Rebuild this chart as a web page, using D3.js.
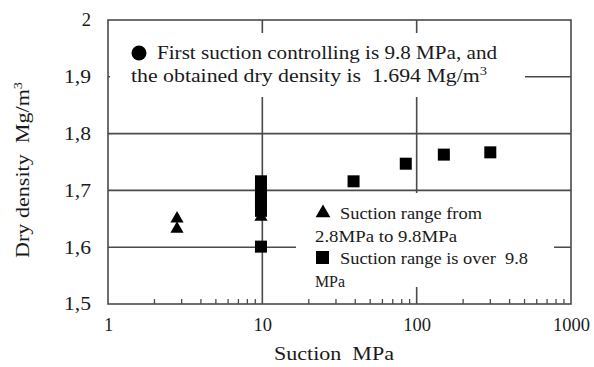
<!DOCTYPE html>
<html>
<head>
<meta charset="utf-8">
<script src="https://cdn.jsdelivr.net/npm/d3@7"></script>
<style>
  html, body { margin: 0; padding: 0; background: #fff; }
  svg { display: block; font-family: "Liberation Serif", "Times New Roman", serif; }
</style>
</head>
<body>
<svg id="chart" width="594" height="367"></svg>
<script>
// Suction (MPa) vs dry density (Mg/m3)
const triSuction = [2.8, 2.8, 9.8];
const triDensity = [1.652, 1.634, 1.655];

const sqSuction = [9.8, 9.8, 9.8, 9.8, 9.8, 9.8, 9.8, 39, 85, 150, 300];
const sqDensity = [1.716, 1.706, 1.695, 1.685, 1.674, 1.664, 1.601, 1.716, 1.747, 1.763, 1.767];

const circleSuction = [9.8];
const circleDensity = [1.694];

const xTicks = [1, 10, 100, 1000];
const yTicks = [1.5, 1.6, 1.7, 1.8, 1.9, 2];
const yTickLabels = ["1,5", "1,6", "1,7", "1,8", "1,9", "2"];

const noteLines = ["First suction controlling is 9.8 MPa, and", "the obtained dry density is  1.694 Mg/m"];
const legendLines = ["Suction range from", "2.8MPa to 9.8MPa", "Suction range is over  9.8", "MPa"];

const svg = d3.select("#chart");
const L = 108, R = 571, T = 20, B = 304;

const x = d3.scaleLog().domain([1, 1000]).range([L, R]);
const y = d3.scaleLinear().domain([1.5, 2]).range([B, T]);

const gridColor = "#4a4a4a";
const ink = "#1a1a1a";

// stretch a text element to a given width
function fit(sel, w) {
  return sel.attr("textLength", w).attr("lengthAdjust", "spacingAndGlyphs");
}

// grid lines
svg.append("g").selectAll("line").data(yTicks.filter(v => v > 1.5 && v < 2)).join("line")
  .attr("x1", L).attr("x2", R).attr("y1", d => y(d)).attr("y2", d => y(d))
  .attr("stroke", gridColor).attr("stroke-width", 1.6);
svg.append("g").selectAll("line").data([10, 100]).join("line")
  .attr("x1", d => x(d)).attr("x2", d => x(d)).attr("y1", T).attr("y2", B)
  .attr("stroke", gridColor).attr("stroke-width", 1.6);

// minor ticks on the bottom axis, pointing into the plot
const minor = [];
[1, 10, 100].forEach(dec => { for (let k = 2; k <= 9; k++) minor.push(dec * k); });
svg.append("g").selectAll("line").data(minor).join("line")
  .attr("x1", d => x(d)).attr("x2", d => x(d)).attr("y1", B).attr("y2", B - 5)
  .attr("stroke", gridColor).attr("stroke-width", 1.3);

// frame
svg.append("rect").attr("x", L).attr("y", T).attr("width", R - L).attr("height", B - T)
  .attr("fill", "none").attr("stroke", gridColor).attr("stroke-width", 1.6);

// axis labels via d3 axes (lines hidden, labels kept)
const xAxis = svg.append("g").attr("transform", `translate(0,${B})`)
  .call(d3.axisBottom(x).tickValues(xTicks).tickFormat(d3.format("d")).tickSize(0).tickPadding(14));
const yAxis = svg.append("g").attr("transform", `translate(${L},0)`)
  .call(d3.axisLeft(y).tickValues(yTicks).tickFormat((d, i) => yTickLabels[i]).tickSize(0).tickPadding(17));
[xAxis, yAxis].forEach(g => {
  g.select(".domain").remove();
  g.attr("font-family", null);
  g.selectAll("text").attr("font-family", "Liberation Serif").attr("font-size", 18.5).attr("fill", ink);
});
yAxis.selectAll("text").filter(d => d !== 2).call(fit, 27);

fit(svg.append("text").attr("x", 334).attr("y", 360).attr("text-anchor", "middle")
  .attr("font-size", 18.5).attr("fill", ink).attr("xml:space", "preserve").text("Suction  MPa"), 120);
const yt = svg.append("text").attr("transform", "translate(29,170) rotate(-90)")
  .attr("text-anchor", "middle").attr("font-size", 18.5).attr("fill", ink).attr("xml:space", "preserve");
yt.append("tspan").text("Dry density  Mg/m");
yt.append("tspan").attr("font-size", 12).attr("dy", -7).text("3");
fit(yt, 176);

// data marks
const tri = d3.symbol().type(d3.symbolTriangle).size(75);
svg.append("g").selectAll("circle").data(circleSuction).join("circle")
  .attr("cx", d => x(d)).attr("cy", (d, i) => y(circleDensity[i])).attr("r", 6).attr("fill", "#000");
svg.append("g").selectAll("path").data(triSuction).join("path")
  .attr("d", tri).attr("transform", (d, i) => `translate(${x(d)},${y(triDensity[i]) + 1})`).attr("fill", "#000");
svg.append("g").selectAll("rect").data(sqSuction).join("rect")
  .attr("x", d => x(d) - 6).attr("y", (d, i) => y(sqDensity[i]) - 6)
  .attr("width", 12).attr("height", 12).attr("fill", "#000");

// note box (top)
svg.append("rect").attr("x", 110).attr("y", 33).attr("width", 415).attr("height", 64).attr("fill", "#fff");
svg.append("circle").attr("cx", 139).attr("cy", 53).attr("r", 7.5).attr("fill", "#000");
const note = svg.append("g").attr("font-size", 18).attr("fill", ink);
fit(note.append("text").attr("x", 157).attr("y", 59).text(noteLines[0]), 340);
const n2 = note.append("text").attr("x", 131).attr("y", 82).attr("xml:space", "preserve");
n2.append("tspan").text(noteLines[1]);
n2.append("tspan").attr("font-size", 12).attr("dy", -7).text("3");
fit(n2, 356);

// legend box
svg.append("rect").attr("x", 296).attr("y", 193).attr("width", 258).attr("height", 94).attr("fill", "#fff");
svg.append("path").attr("d", d3.symbol().type(d3.symbolTriangle).size(95)())
  .attr("transform", "translate(323,213)").attr("fill", "#000");
svg.append("rect").attr("x", 316).attr("y", 251).attr("width", 13).attr("height", 13).attr("fill", "#000");
const legendWidths = [142, 142, 188, 30];
const leg = svg.append("g").attr("font-size", 17).attr("fill", ink);
leg.selectAll("text").data(legendLines).join("text")
  .attr("x", (d, i) => (i % 2 === 0 ? 340 : 315))
  .attr("y", (d, i) => 219 + i * 22.5)
  .attr("xml:space", "preserve")
  .attr("textLength", (d, i) => legendWidths[i])
  .attr("lengthAdjust", "spacingAndGlyphs")
  .text(d => d);
</script>
</body>
</html>
